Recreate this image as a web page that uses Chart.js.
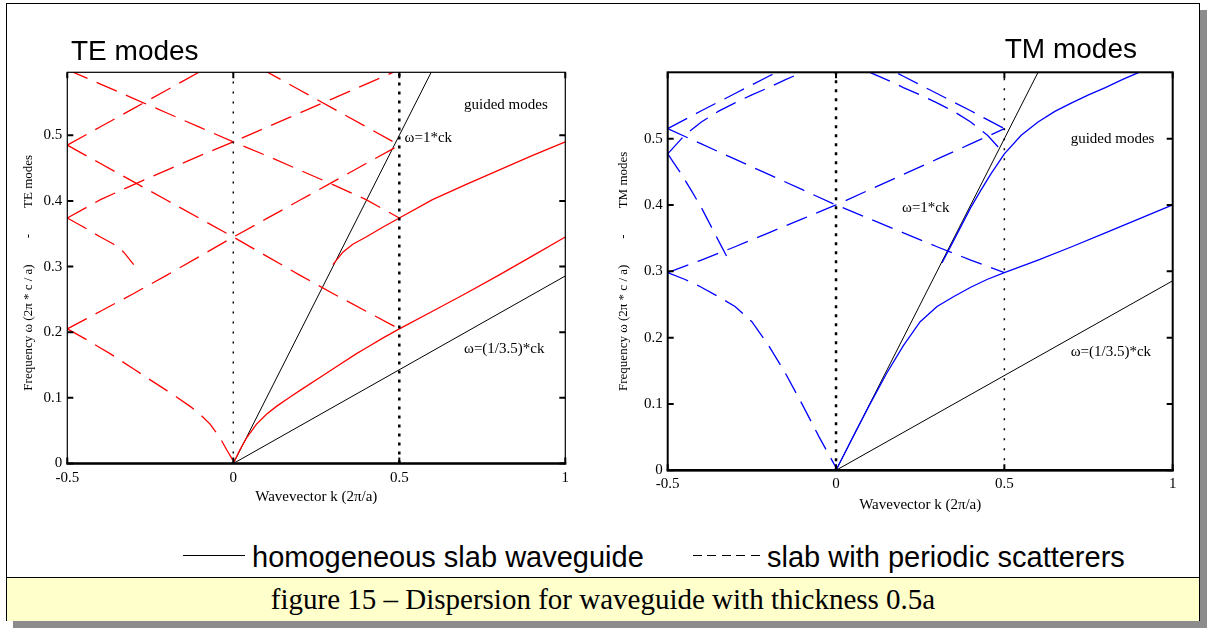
<!DOCTYPE html>
<html>
<head>
<meta charset="utf-8">
<script src="https://cdn.jsdelivr.net/npm/chart.js@4.4.1/dist/chart.umd.min.js"></script>
<style>
  html, body { margin: 0; padding: 0; background: #fff; }
  #page { position: relative; width: 1207px; height: 629px; overflow: hidden; background: #fff; }
  #frame { position: absolute; left: 6px; top: 3px; width: 1192px; height: 616px; border: 1px solid #000; background: #fff; box-shadow: 7px 7px 0 #8c8c8c; }
  #caption { position: absolute; left: 0; top: 573px; width: 1192px; height: 43px; border-top: 1px solid #000; background: #ffffcc;
    font-family: 'Liberation Serif', 'Times New Roman', serif; font-size: 29px; line-height: 42px; text-align: center; }
  .box { position: absolute; top: 0; }
  .title { position: absolute; font-family: 'Liberation Sans', Arial, sans-serif; font-size: 28px; line-height: 28px; white-space: nowrap; }
  .legend { position: absolute; top: 542px; font-family: 'Liberation Sans', Arial, sans-serif; font-size: 29px; line-height: 30px; white-space: nowrap; }
  .mark { position: absolute; top: 555px; height: 1px; }
</style>
</head>
<body>
<div id="page">
  <div id="frame">
    <div id="caption">figure 15 – Dispersion for waveguide with thickness 0.5a</div>
  </div>
  <canvas id="teChart" class="box" width="600" height="530" style="left:0"></canvas>
  <canvas id="tmChart" class="box" width="600" height="530" style="left:600px"></canvas>
  <div class="title" style="left:71px; top:37px">TE modes</div>
  <div class="title" style="right:70px; top:35px">TM modes</div>
  <div class="mark" style="left:183px; width:62px; background:#000"></div>
  <div class="legend" style="left:252px">homogeneous slab waveguide</div>
  <div class="mark" style="left:693px; width:67px; background:repeating-linear-gradient(to right, #000 0 9px, transparent 9px 14.5px)"></div>
  <div class="legend" style="left:767px">slab with periodic scatterers</div>
</div>
<script>
// axis ticks
const kTicks = [-0.5, 0, 0.5, 1];
const wTicks = [0, 0.1, 0.2, 0.3, 0.4, 0.5];

// light lines (same in both plots)
const lightAir = [[0, 0], [0.6, 0.6]];
const lightCore = [[0, 0], [1, 0.2857]];
const zoneCentre = [[0, 0], [0, 0.6]];
const zoneEdge = [[0.5, 0], [0.5, 0.6]];

// TE: homogeneous slab guided modes [k, w]
const teMode0 = [[0, 0], [0.02, 0.021], [0.04, 0.039], [0.07, 0.06], [0.1, 0.075], [0.13, 0.087], [0.17, 0.101], [0.2, 0.111],
  [0.27, 0.134], [0.3, 0.144], [0.37, 0.167], [0.4, 0.176], [0.45, 0.191], [0.5, 0.205], [0.6, 0.232], [0.7, 0.259],
  [0.8, 0.287], [0.9, 0.316], [1, 0.345]];
const teMode1 = [[0.3, 0.303], [0.33, 0.322], [0.36, 0.334], [0.4, 0.345], [0.45, 0.36], [0.5, 0.374], [0.6, 0.402],
  [0.7, 0.425], [0.8, 0.447], [0.9, 0.469], [1, 0.49]];

// TE: slab with periodic scatterers (folded bands)
const teBandA = [[-0.5, 0.205], [-0.45, 0.191], [-0.4, 0.176], [-0.37, 0.167], [-0.3, 0.144], [-0.27, 0.134], [-0.2, 0.111],
  [-0.17, 0.101], [-0.13, 0.087], [-0.1, 0.075], [-0.07, 0.06], [-0.04, 0.039], [-0.02, 0.021], [0, 0.004]];
const teBandB = [[-0.5, 0.205], [-0.4, 0.232], [-0.3, 0.259], [-0.2, 0.287], [-0.1, 0.316], [0, 0.345], [0.1, 0.373],
  [0.2, 0.401], [0.3, 0.429], [0.4, 0.457], [0.5, 0.485]];
const teBandC = [[-0.5, 0.485], [-0.4, 0.457], [-0.3, 0.429], [-0.2, 0.401], [-0.1, 0.373], [0, 0.345], [0.1, 0.316],
  [0.2, 0.287], [0.3, 0.259], [0.4, 0.232], [0.5, 0.205]];
const teBandD = [[-0.5, 0.374], [-0.4, 0.402], [-0.3, 0.425], [-0.2, 0.447], [-0.1, 0.469], [0, 0.49], [0.1, 0.512],
  [0.2, 0.534], [0.3, 0.556], [0.4, 0.578], [0.5, 0.6]];
const teBandE = [[-0.5, 0.6], [-0.4, 0.578], [-0.3, 0.556], [-0.2, 0.534], [-0.1, 0.512], [0, 0.49], [0.1, 0.469],
  [0.2, 0.447], [0.3, 0.425], [0.4, 0.402], [0.5, 0.374]];
const teBandF = [[-0.5, 0.485], [-0.4, 0.513], [-0.3, 0.541], [-0.2, 0.569], [-0.1, 0.597], [0, 0.625]];
const teBandG = [[0, 0.625], [0.1, 0.597], [0.2, 0.569], [0.3, 0.541], [0.4, 0.513], [0.5, 0.485]];
const teBandH = [[-0.5, 0.374], [-0.45, 0.36], [-0.4, 0.345], [-0.36, 0.334], [-0.33, 0.322], [-0.3, 0.303]];

// TM: homogeneous slab guided modes
const tmMode0 = [[0, 0], [0.05, 0.05], [0.1, 0.099], [0.15, 0.146], [0.2, 0.188], [0.25, 0.224], [0.3, 0.247], [0.35, 0.262],
  [0.4, 0.276], [0.45, 0.288], [0.5, 0.298], [0.6, 0.317], [0.7, 0.337], [0.8, 0.358], [0.9, 0.379], [1, 0.4]];
const tmMode1 = [[0.315, 0.313], [0.35, 0.347], [0.4, 0.396], [0.43, 0.422], [0.46, 0.447], [0.5, 0.477], [0.55, 0.505],
  [0.6, 0.525], [0.65, 0.541], [0.7, 0.554], [0.75, 0.566], [0.8, 0.577], [0.85, 0.589], [0.9, 0.6]];

// TM: slab with periodic scatterers
const tmBandA = [[-0.5, 0.298], [-0.45, 0.288], [-0.4, 0.276], [-0.35, 0.262], [-0.3, 0.247], [-0.25, 0.224], [-0.2, 0.188],
  [-0.15, 0.146], [-0.1, 0.099], [-0.05, 0.05], [0, 0.004]];
const tmBandB = [[-0.5, 0.298], [-0.4, 0.317], [-0.3, 0.337], [-0.2, 0.358], [-0.1, 0.379], [0, 0.4], [0.1, 0.423],
  [0.2, 0.446], [0.3, 0.469], [0.4, 0.492], [0.5, 0.515]];
const tmBandC = [[-0.5, 0.515], [-0.4, 0.492], [-0.3, 0.469], [-0.2, 0.446], [-0.1, 0.423], [0, 0.4], [0.1, 0.379],
  [0.2, 0.358], [0.3, 0.337], [0.4, 0.317], [0.5, 0.298]];
const tmBandD = [[-0.5, 0.515], [-0.4, 0.542], [-0.3, 0.568], [-0.2, 0.594], [-0.1, 0.62]];
const tmBandE = [[0.1, 0.62], [0.2, 0.594], [0.3, 0.568], [0.4, 0.542], [0.5, 0.515]];
const tmBandF = [[-0.5, 0.477], [-0.45, 0.505], [-0.4, 0.525], [-0.35, 0.541], [-0.3, 0.554], [-0.25, 0.566], [-0.2, 0.577],
  [-0.15, 0.589], [-0.1, 0.6]];
const tmBandG = [[0.1, 0.6], [0.15, 0.589], [0.2, 0.577], [0.25, 0.566], [0.3, 0.554], [0.35, 0.541], [0.4, 0.525],
  [0.45, 0.505], [0.5, 0.477]];
const tmBandH = [[-0.5, 0.477], [-0.46, 0.447], [-0.43, 0.422], [-0.4, 0.396], [-0.35, 0.347], [-0.315, 0.313]];

// text notes inside the plots: [k, w, text]
const teNotes = [[0.695, 0.546, "guided modes"], [0.516, 0.496, "ω=1*ck"], [0.695, 0.175, "ω=(1/3.5)*ck"]];
const tmNotes = [[0.697, 0.5, "guided modes"], [0.196, 0.396, "ω=1*ck"], [0.697, 0.178, "ω=(1/3.5)*ck"]];

const serif = "'Liberation Serif', 'Times New Roman', serif";

function line(points, color, width, dash) {
  return {
    data: points.map(([x, y]) => ({ x, y })),
    showLine: true,
    borderColor: color,
    borderWidth: width,
    borderDash: dash || [],
    pointRadius: 0,
    fill: false,
    tension: 0,
  };
}

const notesPlugin = {
  id: "notes",
  afterDatasetsDraw(chart, args, opts) {
    const { ctx, scales } = chart;
    ctx.save();
    ctx.font = "15px " + serif;
    ctx.fillStyle = "#000";
    ctx.textAlign = "left";
    ctx.textBaseline = "middle";
    opts.list.forEach(([k, w, t]) => {
      ctx.fillText(t, scales.x.getPixelForValue(k), scales.y.getPixelForValue(w));
    });
    ctx.restore();
  },
};

const boxPlugin = {
  id: "box",
  afterDraw(chart, args, opts) {
    const { ctx, chartArea: a, scales } = chart;
    ctx.save();
    ctx.strokeStyle = "#000";
    ctx.lineWidth = opts.side;
    ctx.strokeRect(a.left, a.top, a.right - a.left, a.bottom - a.top);
    ctx.lineWidth = opts.base;
    ctx.beginPath();
    ctx.moveTo(a.left - 1, a.bottom);
    ctx.lineTo(a.right + 1, a.bottom);
    ctx.stroke();
    ctx.lineWidth = 2;
    ctx.beginPath();
    kTicks.forEach((v) => {
      const px = scales.x.getPixelForValue(v);
      ctx.moveTo(px, a.bottom);
      ctx.lineTo(px, a.bottom - 6);
      ctx.moveTo(px, a.top);
      ctx.lineTo(px, a.top + 6);
    });
    wTicks.forEach((v) => {
      const py = scales.y.getPixelForValue(v);
      ctx.moveTo(a.left, py);
      ctx.lineTo(a.left + 6, py);
      ctx.moveTo(a.right, py);
      ctx.lineTo(a.right - 6, py);
    });
    ctx.stroke();
    ctx.restore();
  },
};

function makeChart(id, datasets, cfg) {
  const ctx = document.getElementById(id).getContext("2d");
  return new Chart(ctx, {
    type: "scatter",
    data: { datasets },
    options: {
      responsive: false,
      animation: false,
      devicePixelRatio: 1,
      layout: { padding: { left: 0, top: cfg.top, right: cfg.right, bottom: 0 } },
      plugins: {
        legend: { display: false },
        tooltip: { enabled: false },
        notes: { list: cfg.notes },
        box: { side: cfg.side, base: 2.5 },
      },
      scales: {
        x: {
          type: "linear",
          min: -0.5,
          max: 1,
          afterBuildTicks: (s) => { s.ticks = kTicks.map((v) => ({ value: v })); },
          afterFit: (s) => { s.height = cfg.xHeight; },
          grid: { display: false, drawTicks: false },
          border: { display: false },
          ticks: { color: "#000", font: { family: serif, size: 15 }, padding: cfg.xPad, maxRotation: 0, callback: (v) => String(v) },
          title: { display: true, text: "Wavevector k (2π/a)", color: "#000", font: { family: serif, size: 15 }, padding: { top: 0, bottom: cfg.xTitlePad } },
        },
        y: {
          type: "linear",
          min: 0,
          max: cfg.wMax,
          afterBuildTicks: (s) => { s.ticks = wTicks.map((v) => ({ value: v })); },
          afterFit: (s) => { s.width = cfg.yWidth; },
          grid: { display: false, drawTicks: false },
          border: { display: false },
          ticks: { color: "#000", font: { family: serif, size: 15 }, padding: 5, callback: (v) => String(v) },
          title: { display: true, text: cfg.yTitle, color: "#000", font: { family: serif, size: 13 }, padding: { top: cfg.yTitlePad, bottom: 0 } },
        },
      },
    },
    plugins: [notesPlugin, boxPlugin],
  });
}

const dash = [22, 10];

makeChart("teChart", [
  line(zoneCentre, "#000", 1.5, [2, 8]),
  line(zoneEdge, "#000", 2.5, [3, 6]),
  line(teBandA, "#ff0000", 1.3, dash),
  line(teBandB, "#ff0000", 1.3, dash),
  line(teBandC, "#ff0000", 1.3, dash),
  line(teBandD, "#ff0000", 1.3, dash),
  line(teBandE, "#ff0000", 1.3, dash),
  line(teBandF, "#ff0000", 1.3, dash),
  line(teBandG, "#ff0000", 1.3, dash),
  line(teBandH, "#ff0000", 1.3, dash),
  line(teMode0, "#ff0000", 1.3),
  line(teMode1, "#ff0000", 1.3),
  line(lightAir, "#000", 1),
  line(lightCore, "#000", 1),
], {
  top: 72.3, right: 34.7, yWidth: 67.3, xHeight: 66.5, wMax: 0.596,
  xPad: 6, xTitlePad: 24, yTitlePad: 21, side: 1.2,
  yTitle: "Frequency ω (2π * c / a)        -        TE modes   ",
  notes: teNotes,
});

makeChart("tmChart", [
  line(zoneCentre, "#000", 2.5, [3, 6]),
  line(zoneEdge, "#000", 1.5, [2, 8]),
  line(tmBandA, "#0000ff", 1.3, dash),
  line(tmBandB, "#0000ff", 1.3, dash),
  line(tmBandC, "#0000ff", 1.3, dash),
  line(tmBandD, "#0000ff", 1.3, dash),
  line(tmBandE, "#0000ff", 1.3, dash),
  line(tmBandF, "#0000ff", 1.3, dash),
  line(tmBandG, "#0000ff", 1.3, dash),
  line(tmBandH, "#0000ff", 1.3, dash),
  line(tmMode0, "#0000ff", 1.3),
  line(tmMode1, "#0000ff", 1.3),
  line(lightAir, "#000", 1),
  line(lightCore, "#000", 1),
], {
  top: 72.3, right: 27.3, yWidth: 67.7, xHeight: 59.7, wMax: 0.6,
  xPad: 5, xTitlePad: 16, yTitlePad: 16, side: 2,
  yTitle: "Frequency ω (2π * c / a)        -        TM modes",
  notes: tmNotes,
});
</script>
</body>
</html>
